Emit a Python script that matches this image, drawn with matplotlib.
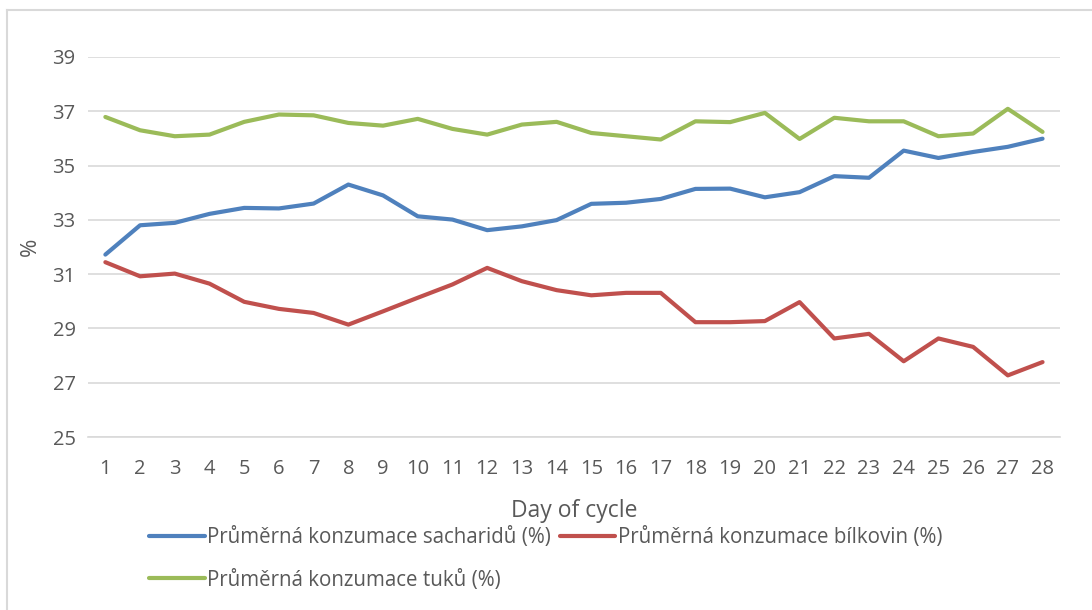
import matplotlib
matplotlib.use("Agg")
import matplotlib.pyplot as plt
from matplotlib.lines import Line2D

plt.rcParams["font.family"] = ["Open Sans", "DejaVu Sans"]

days = list(range(1, 29))
carbs = [31.72, 32.80, 32.89, 33.22, 33.44, 33.42, 33.60, 34.30, 33.90, 33.13,
         33.01, 32.62, 32.76, 32.99, 33.59, 33.63, 33.77, 34.14, 34.15, 33.83,
         34.02, 34.61, 34.55, 35.55, 35.28, 35.50, 35.69, 35.99]
protein = [31.44, 30.92, 31.02, 30.65, 29.98, 29.72, 29.57, 29.14, 29.63, 30.13,
           30.62, 31.23, 30.74, 30.41, 30.22, 30.31, 30.31, 29.23, 29.23, 29.27,
           29.97, 28.63, 28.80, 27.79, 28.63, 28.32, 27.27, 27.76]
fat = [36.79, 36.30, 36.08, 36.14, 36.61, 36.88, 36.85, 36.57, 36.47, 36.72,
       36.35, 36.14, 36.51, 36.61, 36.20, 36.08, 35.96, 36.63, 36.60, 36.94,
       35.98, 36.76, 36.63, 36.63, 36.08, 36.18, 37.09, 36.24]
labels = ["Průměrná konzumace sacharidů (%)",
          "Průměrná konzumace bílkovin (%)",
          "Průměrná konzumace tuků (%)"]
colors = ["#4F81BD", "#C0504D", "#9BBB59"]
yticks = [25, 27, 29, 31, 33, 35, 37, 39]

fig = plt.figure(figsize=(10.92, 6.10), dpi=100)
# chart frame (top and left edges only, the rest is cut off)
frame_kw = dict(transform=fig.transFigure, color="#D9D9D9", linewidth=1.5)
fig.add_artist(Line2D([7 / 1092, 1.0], [1 - 10 / 610, 1 - 10 / 610], **frame_kw))
fig.add_artist(Line2D([7 / 1092, 7 / 1092], [0.0, 1 - 10 / 610], **frame_kw))

ax = fig.add_axes([0.0806, 0.2836, 0.890, 0.623])

lines = []
for series, lab, col in zip([carbs, protein, fat], labels, colors):
    ln, = ax.plot(days, series, color=col, linewidth=3, label=lab,
                  solid_joinstyle="round", solid_capstyle="round")
    lines.append(ln)

ax.set_xlim(0.5, 28.5)
ax.set_ylim(25, 39)
ax.set_xticks(days)
ax.set_yticks(yticks)
ax.grid(axis="y", color="#D9D9D9", linewidth=1.2)
ax.set_axisbelow(True)
for side in ["top", "right", "left"]:
    ax.spines[side].set_visible(False)
ax.spines["bottom"].set_color("#D9D9D9")
ax.spines["bottom"].set_linewidth(1.2)
ax.tick_params(axis="both", length=0, colors="#595959", labelsize=14.5)
ax.tick_params(axis="y", pad=9)
ax.tick_params(axis="x", pad=16)

ax.set_xlabel("Day of cycle", fontsize=16.5, color="#595959", labelpad=14)
ax.set_ylabel("%", fontsize=16, color="#595959", labelpad=8)

# row-wise legend: sacharidy, bílkoviny / tuky
fig.legend(handles=[lines[0], lines[2], lines[1]],
           labels=[labels[0], labels[2], labels[1]],
           loc="upper left", bbox_to_anchor=(0.1293, 0.1496),
           ncol=2, frameon=False, fontsize=14.8, handlelength=2.7,
           handletextpad=0.1, columnspacing=0.45, labelspacing=1.05,
           labelcolor="#595959", borderaxespad=0)

fig.savefig("out.png", dpi=100)
plt.close(fig)
